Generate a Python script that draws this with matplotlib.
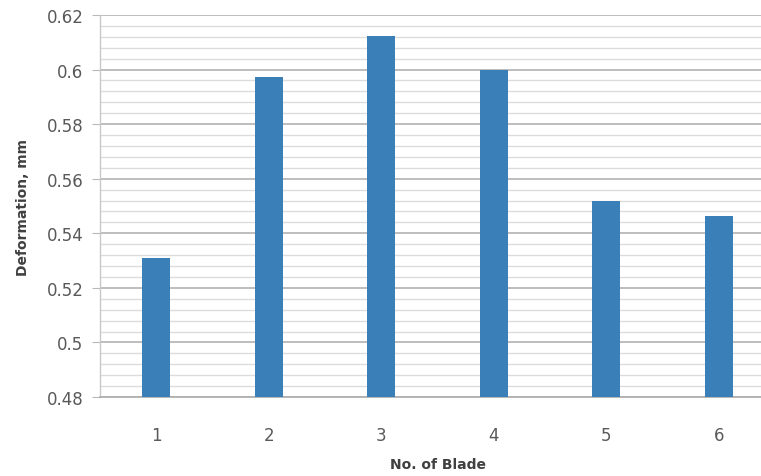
import matplotlib.pyplot as plt
import numpy as np

blades = ["1", "2", "3", "4", "5", "6"]
deformation = [0.531, 0.5973, 0.6123, 0.600, 0.5517, 0.5465]

BAR = "#3a7fb7"
FG = "#595959"
MAJOR = "#b8b8b8"
MINOR = "#dcdcdc"

fig = plt.figure(figsize=(7.61, 4.77), dpi=100, facecolor="white")
# axes runs past the right edge like in the original picture
ax = fig.add_axes([100 / 761, 79 / 477, 675 / 761, 382 / 477])

x = np.arange(1, len(blades) + 1)
ax.bar(x, deformation, width=0.25, color=BAR, zorder=3)

ax.set_xlim(0.5, 6.5)
ax.set_ylim(0.48, 0.62)
ax.set_yticks(np.arange(0.48, 0.6201, 0.02))
ax.set_yticklabels(["0.48", "0.5", "0.52", "0.54", "0.56", "0.58", "0.6", "0.62"])
ax.set_yticks(np.arange(0.48, 0.6201, 0.004), minor=True)
ax.set_xticks(x)
ax.set_xticklabels(blades)

ax.grid(True, axis="y", which="major", color=MAJOR, linewidth=1.3, zorder=0)
ax.grid(True, axis="y", which="minor", color=MINOR, linewidth=1.0, zorder=0)

for s in ["top", "right"]:
    ax.spines[s].set_visible(False)
ax.spines["left"].set_color("#c8c8c8")
ax.spines["bottom"].set_color("#b0b0b0")
ax.spines["left"].set_linewidth(1.0)
ax.spines["bottom"].set_linewidth(1.3)

ax.tick_params(axis="y", which="major", length=6, color=MAJOR, labelsize=12,
               labelcolor=FG, pad=6)
ax.tick_params(axis="y", which="minor", length=0)
ax.tick_params(axis="x", length=0, labelsize=12, labelcolor=FG, pad=21)

ax.set_xlabel("No. of Blade", fontsize=10, fontweight="bold", color="#404040", labelpad=9)
ax.set_ylabel("Deformation, mm", fontsize=10, fontweight="bold", color="#404040", labelpad=12)

fig.savefig("out.png", dpi=100, facecolor="white")
